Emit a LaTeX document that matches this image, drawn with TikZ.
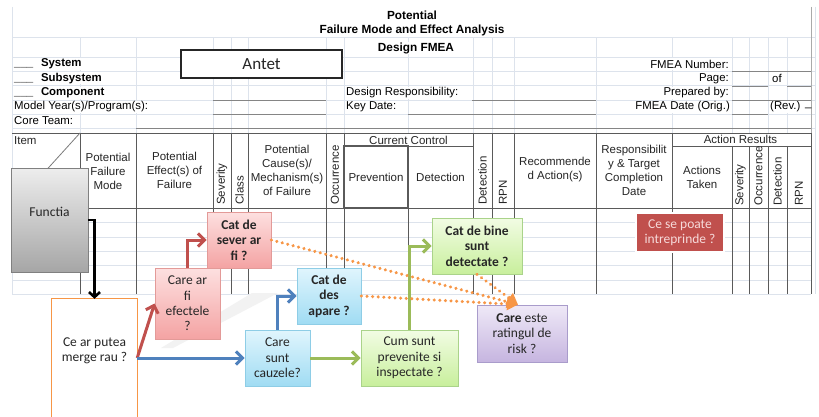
\documentclass[tikz,border=0pt]{standalone}
\usepackage{fontspec}
\setmainfont{Liberation Sans}
\newfontfamily\boxfont{Carlito}
\usetikzlibrary{arrows.meta,shadows}

\definecolor{gridc}{HTML}{DDE3EC}
\definecolor{linec}{HTML}{5A5A5A}
\definecolor{fieldc}{HTML}{858585}
\definecolor{txtc}{HTML}{262626}
\definecolor{redA}{HTML}{C0504D}
\definecolor{blueA}{HTML}{4F81BD}
\definecolor{greenA}{HTML}{9BBB59}
\definecolor{orangeA}{HTML}{F79646}
\definecolor{redB}{HTML}{E39A98}
\definecolor{redT}{HTML}{FDE0E0}
\definecolor{redD}{HTML}{F4A3A3}
\definecolor{blueB}{HTML}{8ECDE6}
\definecolor{blueT}{HTML}{E0F5FD}
\definecolor{blueD}{HTML}{A0DCF3}
\definecolor{greenB}{HTML}{AAD38A}
\definecolor{greenT}{HTML}{F2FCE4}
\definecolor{greenD}{HTML}{C8EF9C}
\definecolor{purB}{HTML}{A99CCB}
\definecolor{purT}{HTML}{EFE9F7}
\definecolor{purD}{HTML}{C6B5E0}
\definecolor{paleTxt}{HTML}{F6DADA}

\tikzset{
  gridline/.style={draw=gridc, line width=0.7pt},
  tabline/.style={draw=linec, line width=0.9pt},
  fieldline/.style={draw=fieldc, line width=0.9pt},
  formtxt/.style={font=\fontsize{11.4}{13.5}\selectfont, inner sep=0pt, fill=white, minimum height=12pt},
  titletxt/.style={font=\fontsize{11.8}{14}\selectfont\bfseries, inner sep=0pt},
  hdr/.style={font=\fontsize{11.5}{14}\selectfont, align=center, inner sep=0pt, text=txtc},
  rothdr/.style={font=\fontsize{11.5}{14}\selectfont, rotate=90, anchor=west, inner sep=0pt, text=txtc},
  qbox/.style={draw=#1, line width=0.8pt, align=center, inner sep=0pt, text=txtc,
    font=\boxfont\fontsize{13.5}{15.4}\selectfont,
    drop shadow={shadow xshift=1.2pt, shadow yshift=-1.2pt, opacity=0.3, fill=black}},
  boldq/.style={font=\boxfont\fontsize{13.5}{15.4}\selectfont\bfseries},
  boxtxt/.style={align=center, inner sep=0pt, text=txtc, font=\boxfont\fontsize{13.5}{15.4}\selectfont},
  colarrow/.style={line width=3pt, -{Straight Barb[length=6.5pt,width=13pt]}},
  dotarrow/.style={draw=orangeA, line width=3.4pt, dash pattern=on 0.01pt off 5.6pt, line cap=round,
    -{Triangle[length=11pt,width=12pt]}},
}

\begin{document}
\begin{tikzpicture}[x=1pt,y=-1pt]
\useasboundingbox (0,0) rectangle (819,417);
\fill[white] (0,0) rectangle (819,417);

% ---- faint spreadsheet grid ----
\foreach \yy in {37.7,57,71,85.5,100,114,128}
  \draw[gridline] (12,\yy) -- (815,\yy);
\foreach \yy in {222.5,237,251,265.5,280,294}
  \draw[gridline] (12,\yy) -- (811,\yy);
\foreach \xx in {80,136,213,231,248,326,344,408,473,492,514,596,672,732,749,768,787}
  \draw[gridline] (\xx,37.7) -- (\xx,133);
\draw[gridline] (12,7) -- (12,294);
\draw[gridline] (815,7) -- (815,294);
\draw[draw=fieldc!70, line width=0.9pt] (811,7) -- (811,133);

% ---- title ----
\node[titletxt] (t1) at (412,15) {Potential};
\node[titletxt] (t2) at (412,30) {Failure Mode and Effect Analysis};
\node[titletxt, fill=white, minimum height=12pt] (t3) at (416,48) {Design FMEA};

% ---- form labels ----
\node[formtxt, anchor=west, font=\fontsize{11.4}{13.5}\selectfont\bfseries] (sys) at (14,64) {\_\_\_\hspace{7.8pt}System};
\node[formtxt, anchor=west, font=\fontsize{11.4}{13.5}\selectfont\bfseries] (subs) at (14,78.5) {\_\_\_\hspace{7.8pt}Subsystem};
\node[formtxt, anchor=west, font=\fontsize{11.4}{13.5}\selectfont\bfseries] (comp) at (14,93) {\_\_\_\hspace{7.8pt}Component};
\node[formtxt, anchor=west] (model) at (14,107) {Model Year(s)/Program(s):};
\node[formtxt, anchor=west] (core) at (14,121) {Core Team:};

\node[formtxt, anchor=west] (dresp) at (346,93) {Design Responsibility:};
\node[formtxt, anchor=west] (kdate) at (346,107) {Key Date:};

\node[formtxt, anchor=east] (fnum) at (729,64) {FMEA Number:};
\node[formtxt, anchor=east] (page) at (729,78.5) {Page:};
\node[formtxt, anchor=east] (prep) at (729,93) {Prepared by:};
\node[formtxt, anchor=east] (fdate) at (730,107) {FMEA Date (Orig.)};
\node[formtxt, anchor=west] (of) at (772,78.5) {of};
\node[formtxt, anchor=west] (rev) at (770,107) {(Rev.)};
\node[formtxt, anchor=west, fill=none] (revl) at (805,108) {\_};

% ---- fill-in lines ----
\draw[fieldline] (213,100) -- (326,100);
\draw[fieldline] (213,114) -- (326,114);
\draw[fieldline] (472,100) -- (596,100);
\draw[fieldline] (408,114) -- (596,114);
\draw[fieldline] (732,71) -- (811,71);
\draw[fieldline] (732,86) -- (768,86);
\draw[fieldline] (787,86) -- (811,86);
\draw[fieldline] (732,100) -- (811,100);
\draw[fieldline] (732,114) -- (768,114);
\draw[fieldline] (136,128) -- (811,128);

% ---- header box ----
\node[draw=black!85, line width=1.3pt, fill=white, minimum width=161pt, minimum height=28pt,
      inner sep=0pt, font=\boxfont\fontsize{17}{20}\selectfont, text=txtc] (antet) at (261.5,64) {Antet};

% ---- table ----
\draw[tabline] (12,133) -- (811,133);
\draw[tabline] (12,208) -- (811,208);
\draw[tabline] (344,146) -- (473,146);
\draw[tabline] (672,146) -- (811,146);
\foreach \xx in {80,136,213,231,248,326,344,473,492,514,596,672,811}
  \draw[tabline] (\xx,133) -- (\xx,294);
\foreach \xx in {408,732,749,768,787}
  \draw[tabline] (\xx,146) -- (\xx,294);
\draw[draw=linec!80, line width=0.8pt] (80,133) -- (12,208);
\draw[draw=linec, line width=1.7pt] (344,146) rectangle (408,208);

% ---- column headings ----
\node[hdr, anchor=north west] (item) at (14,136.5) {Item};
\node[hdr] (pfm) at (108,171) {Potential\\Failure\\Mode};
\node[hdr] (pef) at (174.5,170) {Potential\\Effect(s) of\\Failure};
\node[rothdr] (sev1) at (222,205) {Severity};
\node[rothdr] (cls) at (239.5,205) {Class};
\node[hdr] (pcm) at (287,170) {Potential\\Cause(s)/\\Mechanism(s)\\of Failure};
\node[rothdr] (occ1) at (335,205) {Occurrence};
\node[hdr] (cc) at (408.5,140) {Current Control};
\node[hdr] (prv) at (376,177) {Prevention};
\node[hdr] (det) at (440.5,177) {Detection};
\node[rothdr] (det1) at (482.5,205) {Detection};
\node[rothdr] (rpn1) at (503,205) {RPN};
\node[hdr] (rec) at (555,170) {Recommende\\d Action(s)};
\node[hdr] (resp) at (634,170) {Responsibilit\\y \& Target\\Completion\\Date};
\node[hdr] (ares) at (740.5,139.5) {Action Results};
\node[hdr] (taken) at (702,177.5) {Actions\\Taken};
\node[rothdr] (sev2) at (740.5,206) {Severity};
\node[rothdr] (occ2) at (758.5,206) {Occurrence};
\node[rothdr] (det2) at (777.5,206) {Detection};
\node[rothdr] (rpn2) at (799,206) {RPN};

% ---- soft reflection band ----
\fill[black!5] (161,348) -- (173,348) -- (278,293) -- (252,293) -- cycle;

% ---- question boxes ----
\node[qbox=black!50, top color=black!7, bottom color=black!35, minimum width=77pt, minimum height=104pt]
  (functia) at (49.5,220) {};
\node[boxtxt] (functialbl) at (49.5,212) {Functia};

\node[inner sep=0pt, minimum width=85pt, minimum height=118pt] (cear) at (94.5,358) {};
\fill[white] (cear.south west) rectangle (cear.north east);
\draw[draw=orangeA, line width=1.2pt] (cear.south west) -- (cear.north west) -- (cear.north east) -- (cear.south east);
\node[boxtxt] (cearlbl) at (94.5,350.5) {Ce ar putea\\merge rau ?};

\node[qbox=redB, top color=redT, bottom color=redD, minimum width=65pt, minimum height=71pt]
  (efect) at (187.5,303.5) {Care ar\\fi\\efectele\\?};
\node[qbox=redB, top color=redT, bottom color=redD, minimum width=64pt, minimum height=56pt, boldq]
  (sever) at (239,240) {Cat de\\sever ar\\fi ?};

\node[qbox=blueB, top color=blueT, bottom color=blueD, minimum width=65pt, minimum height=56pt]
  (cause) at (277.5,358) {Care\\sunt\\cauzele?};
\node[qbox=blueB, top color=blueT, bottom color=blueD, minimum width=64pt, minimum height=56pt, boldq]
  (des) at (329,296) {Cat de\\des\\apare ?};

\node[qbox=greenB, top color=greenT, bottom color=greenD, minimum width=97pt, minimum height=56pt]
  (prev) at (409.5,358) {Cum sunt\\prevenite si\\inspectate ?};
\node[qbox=greenB, top color=greenT, bottom color=greenD, minimum width=90pt, minimum height=56pt, boldq]
  (bine) at (477,246) {Cat de bine\\sunt\\detectate ?};

\node[qbox=purB, top color=purT, bottom color=purD, minimum width=90pt, minimum height=57pt]
  (risk) at (522,333.5) {\textbf{Care} este\\ratingul de\\risk ?};

\node[qbox=white, fill=redA, line width=1.5pt, text=paleTxt, minimum width=88pt, minimum height=39pt]
  (act) at (680,232.5) {Ce se poate\\intreprinde ?};

% ---- connectors ----
\draw[line width=2.6pt, -{Straight Barb[length=5pt,width=11pt]}] (functia.east) -| (cear.north);
\draw[colarrow, draw=redA] (cear.east) -- (efect.west);
\draw[colarrow, draw=redA] (efect.north) |- (sever.west);
\draw[colarrow, draw=blueA] (cear.east) -- (cause.west);
\draw[colarrow, draw=blueA] (cause.north) |- (des.west);
\draw[colarrow, draw=greenA] (cause.east) -- (prev.west);
\draw[colarrow, draw=greenA] (prev.north) |- (bine.west);

\draw[dotarrow] (sever.east) -- ([xshift=-4pt]risk.north);
\draw[dotarrow] (des.east) -- ([xshift=-4pt]risk.north);
\draw[dotarrow] (bine.south) -- ([xshift=-4pt]risk.north);
\end{tikzpicture}
\end{document}
